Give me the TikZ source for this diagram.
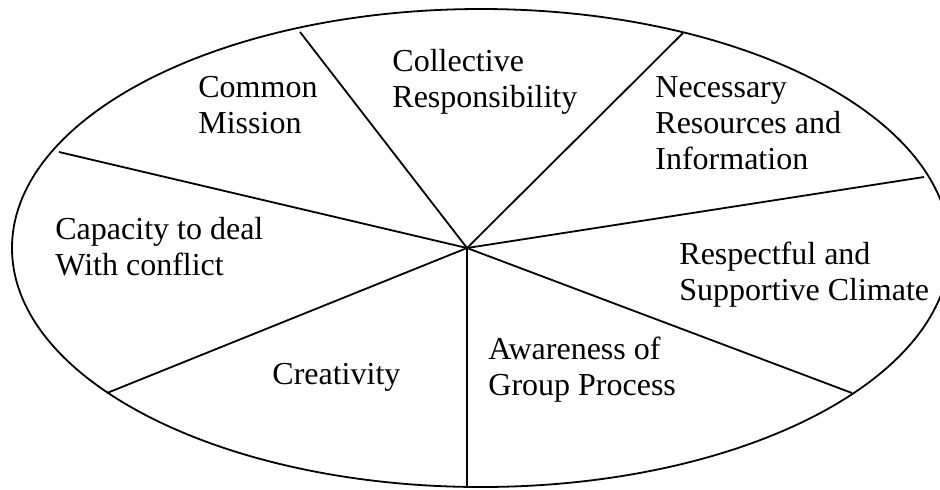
\documentclass[tikz,border=0pt]{standalone}
\usepackage{fontspec}
\setmainfont{Liberation Serif}
\begin{document}
\begin{tikzpicture}[x=0.5pt,y=-0.5pt,
  rim/.style={line width=0.9pt},
  spoke/.style={line width=0.9pt},
  sector/.style={anchor=base west,align=left,inner sep=0pt,
    font=\fontsize{16}{18}\selectfont}]
  \useasboundingbox (0,0) rectangle (940,489);
  \begin{scope}
    \clip (0,0) rectangle (940,489);
    % outer ellipse
    \draw[rim] (481,248) ellipse [x radius=469, y radius=239];
  \end{scope}
  % hub and rim points of the spokes
  \coordinate (hub) at (467,248);
  \coordinate (r1) at (300,32);
  \coordinate (r2) at (683,33);
  \coordinate (r3) at (924,177);
  \coordinate (r4) at (852,393);
  \coordinate (r5) at (467,488);
  \coordinate (r6) at (107,393);
  \coordinate (r7) at (59,152);
  \foreach \r in {r1,r2,r3,r4,r5,r6,r7}
    \draw[spoke] (hub) -- (\r);
  % sector labels, placed by the baseline of their last line
  \node[sector] (mission) at (198,133) {Common\\Mission};
  \node[sector] (collective) at (392,107) {Collective\\Responsibility};
  \node[sector] (resources) at (655,169) {Necessary\\Resources and\\Information};
  \node[sector] (climate) at (679,300) {Respectful and\\Supportive Climate};
  \node[sector] (process) at (488,395) {Awareness of\\Group Process};
  \node[sector] (creativity) at (272,384) {Creativity};
  \node[sector] (conflict) at (55,275) {Capacity to deal\\With conflict};
\end{tikzpicture}
\end{document}
